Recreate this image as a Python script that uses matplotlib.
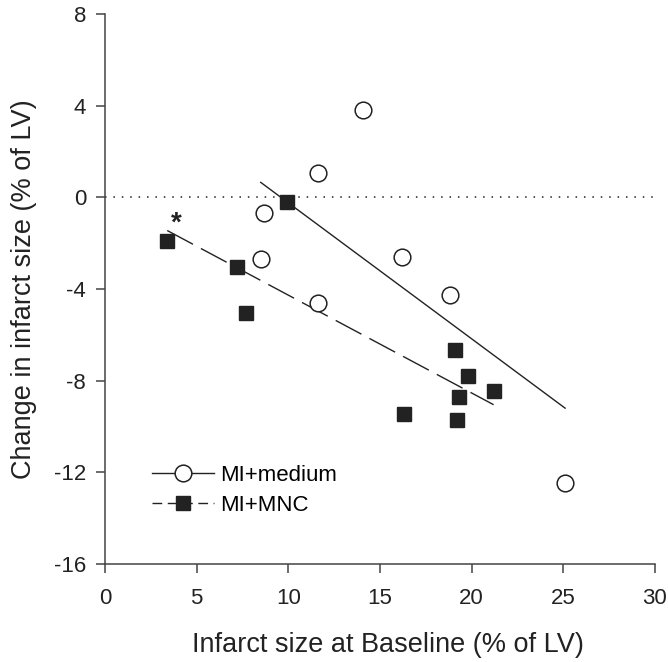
import numpy as np
import matplotlib
matplotlib.use("Agg")
import matplotlib.pyplot as plt
from matplotlib.lines import Line2D

plt.rcParams["font.family"] = ["Liberation Sans", "DejaVu Sans"]
plt.rcParams["axes.unicode_minus"] = False

# MI + medium group (open circles)
medium_x = [14.1, 11.6, 8.7, 8.5, 11.6, 16.2, 18.8, 25.1]
medium_y = [3.8, 1.05, -0.7, -2.7, -4.6, -2.6, -4.25, -12.45]

# MI + MNC group (filled squares)
mnc_x = [3.4, 9.95, 7.2, 7.7, 19.1, 19.8, 21.2, 19.3, 16.3, 19.2]
mnc_y = [-1.9, -0.2, -3.05, -5.05, -6.65, -7.8, -8.45, -8.7, -9.45, -9.7]

# regression line end points
medium_fit_x = [8.5, 25.1]
medium_fit_y = [0.65, -9.2]
mnc_fit_x = [3.4, 21.2]
mnc_fit_y = [-1.45, -9.05]

x_ticks = [0, 5, 10, 15, 20, 25, 30]
y_ticks = [-16, -12, -8, -4, 0, 4, 8]

ink = "#222222"

fig = plt.figure(figsize=(6.68, 6.62), dpi=100)
ax = fig.add_axes([0.157, 0.148, 0.8235, 0.831])

# zero reference line
ax.plot([0, 30], [0, 0], linestyle=(0, (1, 4.5)), color=ink, linewidth=1.1, zorder=1)

ax.plot(medium_fit_x, medium_fit_y, "-", color=ink, linewidth=1.0, zorder=2)
ax.plot(mnc_fit_x, mnc_fit_y, color=ink, linewidth=1.0, dashes=(21, 6.5), zorder=2)

ax.plot(medium_x, medium_y, "o", markersize=12, markerfacecolor="white",
        markeredgecolor=ink, markeredgewidth=1.1, linestyle="none", zorder=3)
ax.plot(mnc_x, mnc_y, "s", markersize=10.5, markerfacecolor=ink,
        markeredgecolor=ink, linestyle="none", zorder=3)

ax.text(3.87, -1.15, "*", fontsize=20, fontweight="bold", ha="center", va="center", color=ink)

ax.set_xlim(0, 30)
ax.set_ylim(-16, 8)
ax.set_xticks(x_ticks)
ax.set_yticks(y_ticks)
ax.spines["top"].set_visible(False)
ax.spines["right"].set_visible(False)
for s in ("left", "bottom"):
    ax.spines[s].set_color("#444444")
    ax.spines[s].set_linewidth(1.1)
ax.tick_params(direction="out", length=6.5, width=1.1, color="#444444",
               labelsize=16, labelcolor=ink)
ax.tick_params(axis="x", pad=11)
ax.tick_params(axis="y", pad=7)

ax.set_xlabel("Infarct size at Baseline (% of LV)", fontsize=19.5, color=ink,
              labelpad=16, x=0.515)
ax.set_ylabel("Change in infarct size (% of LV)", fontsize=19.5, color=ink, labelpad=12)

handles = [
    Line2D([], [], color=ink, linewidth=1.0, marker="o", markersize=12,
           markerfacecolor="white", markeredgecolor=ink, markeredgewidth=1.1),
    Line2D([], [], color=ink, linewidth=1.0, dashes=(7, 4), marker="s", markersize=10.5,
           markerfacecolor=ink, markeredgecolor=ink),
]
ax.legend(handles, ["MI+medium", "MI+MNC"], loc="lower left", bbox_to_anchor=(0.069, 0.071),
          frameon=False, fontsize=16, handlelength=2.8, handletextpad=0.3,
          labelspacing=0.42, borderaxespad=0)

fig.savefig("out.png", dpi=100)
